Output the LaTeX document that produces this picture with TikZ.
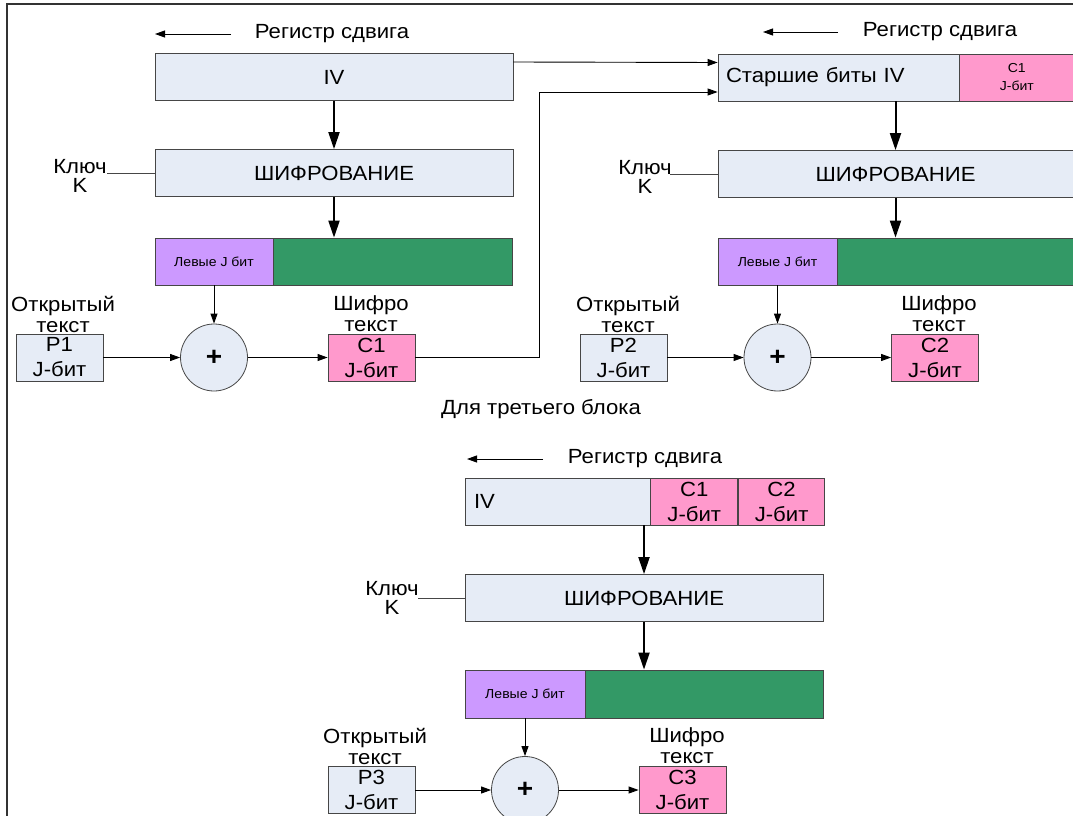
\documentclass[tikz,border=0pt]{standalone}
\usepackage{fontspec}
\setmainfont{Liberation Sans}[FakeStretch=1.08]
\usetikzlibrary{arrows.meta}
\definecolor{pale}{RGB}{230,236,246}
\definecolor{pinkbit}{RGB}{255,153,204}
\definecolor{lilac}{RGB}{204,153,255}
\definecolor{keygreen}{RGB}{51,153,102}
\definecolor{boxline}{RGB}{70,70,70}
\newcommand{\mainfs}{\fontsize{20.5}{21}\selectfont}
\newcommand{\bitfs}{\fontsize{20.5}{25}\selectfont}
\newcommand{\smallfs}{\fontsize{13}{18}\selectfont}
\tikzset{
  cell/.style={draw=boxline, line width=0.8pt, inner sep=0pt, minimum height=47pt, font=\mainfs, align=center},
  regbox/.style={cell, fill=pale},
  pbits/.style={cell, fill=pale, font=\bitfs, minimum width=87pt},
  cbits/.style={cell, fill=pinkbit, font=\bitfs, minimum width=87pt},
  lbits/.style={cell, fill=lilac, font=\smallfs},
  rbits/.style={cell, fill=keygreen},
  xorop/.style={circle, draw=boxline, line width=0.8pt, fill=pale, minimum size=67pt, inner sep=0pt, font=\fontsize{26}{26}\selectfont\bfseries},
  lbl/.style={font=\mainfs, align=center, inner sep=0pt},
  keylbl/.style={font=\fontsize{20.5}{19}\selectfont, align=center, inner sep=0pt},
  flow/.style={line width=2pt, -{Triangle[length=17pt,width=11pt]}},
  feed/.style={line width=0.9pt, -{Triangle[length=10pt,width=7pt]}},
  keyline/.style={line width=0.9pt, draw=boxline},
}
\begin{document}
\begin{tikzpicture}[x=1pt,y=-1pt]
  \useasboundingbox (0,0) rectangle (1073,816);
  \draw[line width=1.5pt, black!80] (7,816) -- (7,4) -- (1073,4);

  % first block
  \coordinate (sh1a) at (231,34);
  \coordinate (sh1b) at (155,34);
  \draw[feed] (sh1a) -- (sh1b);
  \node[lbl] (sh1) at (332,34) {Регистр сдвига};
  \node[regbox, minimum width=358pt] (iv1) at (334,77) {IV};
  \node[regbox, minimum width=358pt] (enc1) at (334,173) {ШИФРОВАНИЕ};
  \node[keylbl] (k1) at (80,176) {Ключ\\K};
  \coordinate (key1) at (107,173);
  \node[lbits, minimum width=118pt] (left1) at (214,261.5) {Левые J бит};
  \node[rbits, minimum width=239pt, anchor=west] (rest1) at (left1.east) {};
  \node[xorop] (xor1) at (214,357.5) {+};
  \node[pbits] (p1) at (59.5,357.5) {P1\\J-бит};
  \node[cbits] (c1) at (371.5,357.5) {C1\\J-бит};
  \node[lbl] (open1) at (63,314) {Открытый\\текст};
  \node[lbl] (ciph1) at (371,314) {Шифро\\текст};
  \draw[flow] (iv1) -- (enc1);
  \draw[flow] (enc1.south) -- (enc1.south |- rest1.north);
  \draw[keyline] (key1) -- (enc1.west);
  \draw[feed] (left1) -- (xor1);
  \draw[feed] (p1) -- (xor1);
  \draw[feed] (xor1) -- (c1);

  % second block
  \coordinate (sh2a) at (838,32);
  \coordinate (sh2b) at (763,32);
  \draw[feed] (sh2a) -- (sh2b);
  \node[lbl] (sh2) at (940,32) {Регистр сдвига};
  \node[regbox, minimum width=241pt, text width=225pt, align=left] (hi2) at (838.5,77.5) {Старшие биты IV};
  \node[cell, fill=pinkbit, font=\smallfs, minimum width=114pt, anchor=west] (c1r2) at (hi2.east) {C1\\J-бит};
  \node[regbox, minimum width=355pt] (enc2) at (895.5,174) {ШИФРОВАНИЕ};
  \node[keylbl] (k2) at (645,177) {Ключ\\K};
  \coordinate (key2) at (670,174);
  \node[lbits, minimum width=119pt] (left2) at (777.5,261.5) {Левые J бит};
  \node[rbits, minimum width=236pt, anchor=west] (rest2) at (left2.east) {};
  \node[xorop] (xor2) at (777.5,357.5) {+};
  \node[pbits] (p2) at (623.5,357.5) {P2\\J-бит};
  \node[cbits] (c2) at (935,357.5) {C2\\J-бит};
  \node[lbl] (open2) at (628,314) {Открытый\\текст};
  \node[lbl] (ciph2) at (939,314) {Шифро\\текст};
  \draw[flow] (enc2.north |- hi2.south) -- (enc2.north);
  \draw[flow] (enc2.south) -- (enc2.south |- rest2.north);
  \draw[keyline] (key2) -- (enc2.west);
  \draw[feed] (left2) -- (xor2);
  \draw[feed] (p2) -- (xor2);
  \draw[feed] (xor2) -- (c2);

  % from block one to block two
  \coordinate (fb1) at (539,92);
  \draw[feed] ([yshift=15pt]iv1.east) -- ([yshift=15pt]hi2.west);
  \draw[feed] (c1.east) -| (fb1) -- ([yshift=-14.5pt]hi2.west);

  % third block
  \node[lbl] (third) at (541,409) {Для третьего блока};
  \coordinate (sh3a) at (543,459);
  \coordinate (sh3b) at (467,459);
  \draw[feed] (sh3a) -- (sh3b);
  \node[lbl] (sh3) at (645,459) {Регистр сдвига};
  \node[regbox, minimum width=185pt, text width=167pt, align=left] (iv3) at (557.5,501.5) {IV};
  \node[cbits, anchor=west] (c1r3) at (iv3.east) {C1\\J-бит};
  \node[cbits, minimum width=86pt, anchor=west] (c2r3) at (c1r3.east) {C2\\J-бит};
  \node[regbox, minimum width=358pt] (enc3) at (644,598) {ШИФРОВАНИЕ};
  \node[keylbl] (k3) at (392,598) {Ключ\\K};
  \coordinate (key3) at (418,598);
  \node[lbits, minimum width=120pt, minimum height=48pt] (left3) at (525,694) {Левые J бит};
  \node[rbits, minimum width=238pt, minimum height=48pt, anchor=west] (rest3) at (left3.east) {};
  \node[xorop] (xor3) at (525,790) {+};
  \node[pbits] (p3) at (371.5,790) {P3\\J-бит};
  \node[cbits] (c3) at (682.5,790) {C3\\J-бит};
  \node[lbl] (open3) at (375,746) {Открытый\\текст};
  \node[lbl] (ciph3) at (687,746) {Шифро\\текст};
  \draw[flow] (enc3.north |- iv3.south) -- (enc3.north);
  \draw[flow] (enc3.south) -- (enc3.south |- rest3.north);
  \draw[keyline] (key3) -- (enc3.west);
  \draw[feed] (left3) -- (xor3);
  \draw[feed] (p3) -- (xor3);
  \draw[feed] (xor3) -- (c3);
\end{tikzpicture}
\end{document}
